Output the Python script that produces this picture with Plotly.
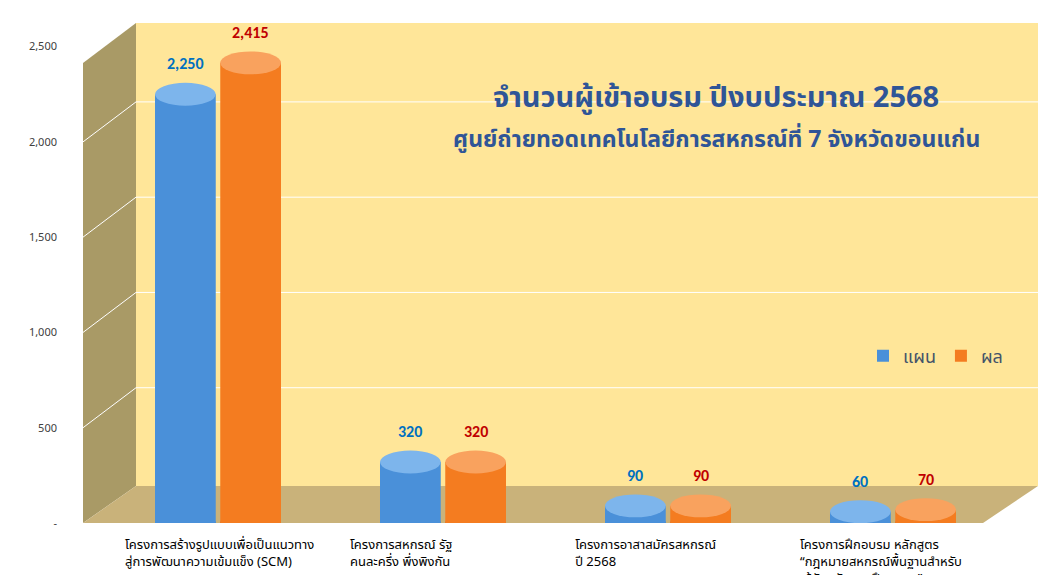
import plotly.graph_objects as go

categories = ["โครงการสร้างรูปแบบเพื่อเป็นแนวทาง<br>สู่การพัฒนาความเข้มแข็ง (SCM)",
              "โครงการสหกรณ์ รัฐ<br>คนละครึ่ง พึ่งพิงกัน",
              "โครงการอาสาสมัครสหกรณ์<br>ปี 2568",
              "โครงการฝึกอบรม หลักสูตร<br>“กฎหมายสหกรณ์พื้นฐานสำหรับ<br> ผู้จัดหลักสูตรฝึกอบรม”"]
plan = [2250, 320, 90, 60]
result = [2415, 320, 90, 70]
tick_vals = [0, 500, 1000, 1500, 2000, 2500]
tick_text = ["-", "500", "1,000", "1,500", "2,000", "2,500"]

W, H = 1057, 575
ML, MR, MT, MB = 75, 37, 15, 60
YMAX = 2624
font_th = "Noto Sans Thai, Tahoma, Leelawadee UI, sans-serif"

def px_to_paper_x(px): return (px - ML) / (W - ML - MR)
def px_to_paper_y(py): return (H - MB - py) / (H - MT - MB)
def val_to_py(v): return (H - MB) - v / YMAX * (H - MT - MB)

xs = list(range(len(categories)))
off, bw = 0.145, 0.27
cap = 60

fig = go.Figure()
fig.add_bar(x=[x - off for x in xs], y=plan, width=bw, name="แผน",
            marker=dict(color="#4A90D9", line=dict(width=0)))
fig.add_bar(x=[x + off for x in xs], y=result, width=bw, name="ผล",
            marker=dict(color="#F47C20", line=dict(width=0)))

shapes = []
shapes.append(dict(type="path", xref="paper", yref="paper", layer="below",
    path=f"M {px_to_paper_x(128)} {px_to_paper_y(15)} L {px_to_paper_x(1030)} {px_to_paper_y(15)} L {px_to_paper_x(1030)} {px_to_paper_y(478)} L {px_to_paper_x(128)} {px_to_paper_y(478)} Z",
    fillcolor="#FFE699", line=dict(width=0)))
shapes.append(dict(type="path", xref="paper", yref="paper", layer="below",
    path=f"M {px_to_paper_x(75)} {px_to_paper_y(55)} L {px_to_paper_x(128)} {px_to_paper_y(15)} L {px_to_paper_x(128)} {px_to_paper_y(478)} L {px_to_paper_x(75)} {px_to_paper_y(515)} Z",
    fillcolor="#A99A66", line=dict(width=0)))
shapes.append(dict(type="path", xref="paper", yref="paper", layer="below",
    path=f"M {px_to_paper_x(75)} {px_to_paper_y(515)} L {px_to_paper_x(128)} {px_to_paper_y(478)} L {px_to_paper_x(1030)} {px_to_paper_y(478)} L {px_to_paper_x(975)} {px_to_paper_y(515)} Z",
    fillcolor="#C9B27A", line=dict(width=0)))
for v in tick_vals[1:]:
    py = val_to_py(v)
    shapes.append(dict(type="path", xref="paper", yref="paper", layer="below",
        path=f"M {px_to_paper_x(75)} {px_to_paper_y(py)} L {px_to_paper_x(128)} {px_to_paper_y(py-40)} L {px_to_paper_x(1030)} {px_to_paper_y(py-40)}",
        line=dict(color="white", width=1)))
for vals, sgn, top, bot in [(plan, -1, "#7DB5EC", "#2F6FB8"), (result, 1, "#F9A25E", "#C8580D")]:
    for x, v in zip(xs, vals):
        cx = x + sgn * off
        shapes.append(dict(type="circle", xref="x", yref="y", x0=cx - bw/2, x1=cx + bw/2,
                           y0=-cap, y1=cap, fillcolor=bot, line=dict(width=0), layer="below"))
        shapes.append(dict(type="circle", xref="x", yref="y", x0=cx - bw/2, x1=cx + bw/2,
                           y0=v - cap, y1=v + cap, fillcolor=top, line=dict(width=0)))

ann = []
for vals, sgn, col in [(plan, -1, "#0070C0"), (result, 1, "#C00000")]:
    for x, v in zip(xs, vals):
        ann.append(dict(x=x + sgn * off, y=v + cap + 40, text=f"<b>{v:,}</b>", showarrow=False,
                        xanchor="center", yanchor="bottom",
                        font=dict(size=16, color=col, family="Calibri, Arial")))
for x, c in zip(xs, categories):
    ann.append(dict(x=px_to_paper_x(115 + 225 * x), y=px_to_paper_y(525), xref="paper", yref="paper",
                    text=c, showarrow=False, xanchor="left", yanchor="top", align="left",
                    font=dict(size=13, color="black", family=font_th)))
ann.append(dict(x=px_to_paper_x(708), y=px_to_paper_y(90), xref="paper", yref="paper",
                xanchor="center", yanchor="middle",
                text="<b>จำนวนผู้เข้าอบรม ปีงบประมาณ 2568</b>", showarrow=False,
                font=dict(size=29, color="#2F5597", family=font_th)))
ann.append(dict(x=px_to_paper_x(708), y=px_to_paper_y(132), xref="paper", yref="paper",
                xanchor="center", yanchor="middle",
                text="<b>ศูนย์ถ่ายทอดเทคโนโลยีการสหกรณ์ที่ 7 จังหวัดขอนแก่น</b>", showarrow=False,
                font=dict(size=23, color="#2F5597", family=font_th)))

fig.update_layout(
    width=W, height=H, margin=dict(l=ML, r=MR, t=MT, b=MB, autoexpand=False),
    paper_bgcolor="white", plot_bgcolor="rgba(0,0,0,0)",
    barmode="overlay", shapes=shapes, annotations=ann,
    xaxis=dict(range=[-0.6, 3.6], showticklabels=False, showgrid=False, zeroline=False, automargin=False),
    yaxis=dict(range=[0, YMAX], tickvals=tick_vals, ticktext=tick_text, showgrid=False, automargin=False,
               zeroline=False, ticklabelstandoff=25, tickfont=dict(size=11, color="#404040")),
    legend=dict(x=px_to_paper_x(855), y=px_to_paper_y(348), yanchor="middle", xanchor="left",
                orientation="h", bgcolor="rgba(0,0,0,0)",
                font=dict(size=18, color="#44546A", family=font_th)),
    font=dict(family=font_th),
)
fig.write_html("out.html")
